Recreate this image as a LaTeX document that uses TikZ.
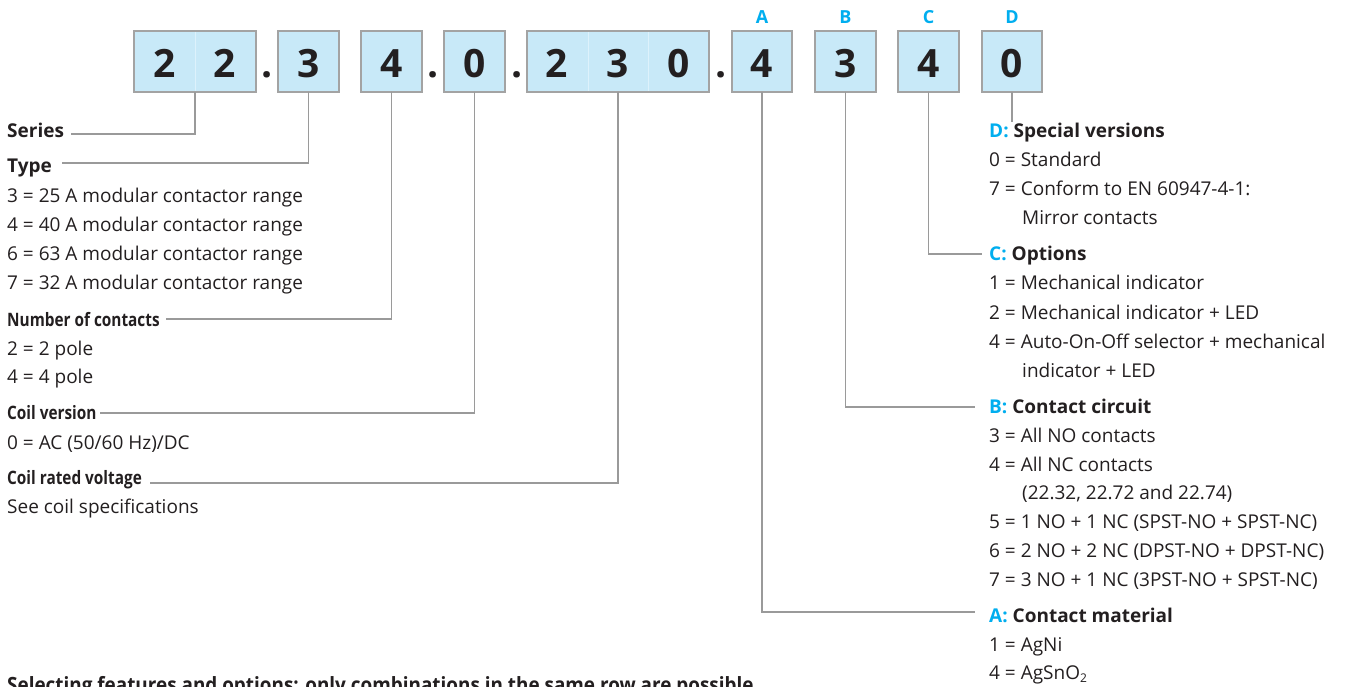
\documentclass[tikz,border=0pt]{standalone}
\usepackage{fontspec}
\setmainfont{Open Sans}
\newfontfamily\condfont{Open Sans}[FakeStretch=0.83]
\newfontfamily\footfont{Open Sans}[FakeStretch=0.9]
\definecolor{boxfill}{HTML}{C8E9F8}
\definecolor{boxline}{HTML}{A3A3A3}
\definecolor{seam}{HTML}{DDF2FC}
\definecolor{ink}{HTML}{231F20}
\definecolor{cy}{HTML}{00AEEF}
\definecolor{conn}{HTML}{9A9A9A}
\begin{document}
\begin{tikzpicture}[x=1pt,y=-1pt,
  box/.style={draw=boxline, line width=1.2pt, fill=boxfill, minimum height=61pt, inner sep=0pt, outer sep=0pt},
  digit/.style={font=\fontsize{39}{39}\selectfont\bfseries, text=ink, anchor=base, inner sep=0pt},
  letter/.style={font=\fontsize{18}{18}\selectfont\bfseries, text=cy, anchor=base, inner sep=0pt},
  txt/.style={font=\fontsize{19}{20}\selectfont, text=ink, anchor=base west, inner sep=0pt},
  hd/.style={font=\fontsize{19}{20}\selectfont\bfseries, text=ink, anchor=base west, inner sep=0pt},
  hdc/.style={font=\condfont\fontsize{18.5}{20}\selectfont\bfseries, text=ink, anchor=base west, inner sep=0pt},
  foot/.style={font=\footfont\fontsize{21}{22}\selectfont\bfseries, text=ink, anchor=base west, inner sep=0pt},
  connector/.style={draw=conn, line width=1.3pt},
]
\useasboundingbox[fill=white] (0,0) rectangle (1347,687);

% boxes
\node[box, minimum width=122pt] (b22) at (195,61.5) {};
\node[box, minimum width=61pt] (b3) at (308.5,61.5) {};
\node[box, minimum width=61pt] (b4) at (391.5,61.5) {};
\node[box, minimum width=61pt] (b0) at (474.5,61.5) {};
\node[box, minimum width=182pt] (b230) at (618,61.5) {};
\node[box, minimum width=60pt] (bA) at (762,61.5) {};
\node[box, minimum width=61pt] (bB) at (845.5,61.5) {};
\node[box, minimum width=61pt] (bC) at (928.5,61.5) {};
\node[box, minimum width=60pt] (bD) at (1012,61.5) {};
\draw[seam, line width=0.8pt] (195,32) -- (195,91) (588,32) -- (588,91) (648,32) -- (648,91);

% digits
\node[digit] (d1) at (165,78) {2};
\node[digit] (d2) at (225,78) {2};
\node[digit] (dp1) at (267,78) {.};
\node[digit] (d3) at (308.5,78) {3};
\node[digit] (d4) at (391.5,78) {4};
\node[digit] (dp2) at (433,78) {.};
\node[digit] (d5) at (474.5,78) {0};
\node[digit] (dp3) at (517,78) {.};
\node[digit] (d6) at (557,78) {2};
\node[digit] (d7) at (618,78) {3};
\node[digit] (d8) at (679,78) {0};
\node[digit] (dp4) at (721,78) {.};
\node[digit] (d9) at (762,78) {4};
\node[digit] (d10) at (845.5,78) {3};
\node[digit] (d11) at (928.5,78) {4};
\node[digit] (d12) at (1012,78) {0};

\node[letter] (lA) at (762,24) {A};
\node[letter] (lB) at (845.5,24) {B};
\node[letter] (lC) at (928.5,24) {C};
\node[letter] (lD) at (1012,24) {D};

% left column
\node[hd] (series) at (7,138) {Series};
\node[hd] (type) at (7,173) {Type};
\node[txt] (t1) at (7,203) {3 = 25 A modular contactor range};
\node[txt] (t2) at (7,232) {4 = 40 A modular contactor range};
\node[txt] (t3) at (7,261) {6 = 63 A modular contactor range};
\node[txt] (t4) at (7,290) {7 = 32 A modular contactor range};
\node[hdc] (num) at (7,326) {Number of contacts};
\node[txt] (n1) at (7,355) {2 = 2 pole};
\node[txt] (n2) at (7,383) {4 = 4 pole};
\node[hdc] (coilv) at (7,419) {Coil version};
\node[txt] (c1) at (7,449) {0 = AC (50/60 Hz)/DC};
\node[hdc] (coilr) at (7,484) {Coil rated voltage};
\node[txt] (r1) at (7,513) {See coil specifications};

% right column
\node[hd] (hD) at (989,138) {\textcolor{cy}{D:} Special versions};
\node[txt] (D1) at (989,167) {0 = Standard};
\node[txt] (D2) at (989,196) {7 = Conform to EN 60947-4-1:};
\node[txt] (D3) at (1022,225) {Mirror contacts};
\node[hd] (hC) at (989,261) {\textcolor{cy}{C:} Options};
\node[txt] (C1) at (989,290) {1 = Mechanical indicator};
\node[txt] (C2) at (989,319) {2 = Mechanical indicator + LED};
\node[txt] (C3) at (989,348) {4 = Auto-On-Off selector + mechanical};
\node[txt] (C4) at (1022,377) {indicator + LED};
\node[hd] (hB) at (989,413) {\textcolor{cy}{B:} Contact circuit};
\node[txt] (B1) at (989,442) {3 = All NO contacts};
\node[txt] (B2) at (989,471) {4 = All NC contacts};
\node[txt] (B3) at (1022,499) {(22.32, 22.72 and 22.74)};
\node[txt] (B4) at (989,528) {5 = 1 NO + 1 NC (SPST-NO + SPST-NC)};
\node[txt] (B5) at (989,557) {6 = 2 NO + 2 NC (DPST-NO + DPST-NC)};
\node[txt] (B6) at (989,586) {7 = 3 NO + 1 NC (3PST-NO + SPST-NC)};
\node[hd] (hA) at (989,622) {\textcolor{cy}{A:} Contact material};
\node[txt] (A1) at (989,651) {1 = AgNi};
\node[txt] (A2) at (989,679) {4 = AgSnO\raisebox{-0.3ex}{\fontsize{12}{12}\selectfont 2}};

\node[foot] (footnote) at (7,692) {Selecting features and options: only combinations in the same row are possible};

% connector ends
\coordinate (eSer) at (71,134);
\coordinate (eType) at (62,163);
\coordinate (eNum) at (166,319);
\coordinate (eCv) at (100,413);
\coordinate (eCr) at (150,483);
\coordinate (eA) at (975,612);
\coordinate (eB) at (975,407);
\coordinate (eC) at (982,254);
\coordinate (eD) at (1012,122);

\draw[connector] (b22.south) |- (eSer);
\draw[connector] (b3.south) |- (eType);
\draw[connector] (b4.south) |- (eNum);
\draw[connector] (b0.south) |- (eCv);
\draw[connector] (b230.south) |- (eCr);
\draw[connector] (bA.south) |- (eA);
\draw[connector] (bB.south) |- (eB);
\draw[connector] (bC.south) |- (eC);
\draw[connector] (bD.south) -- (eD);
\end{tikzpicture}
\end{document}
